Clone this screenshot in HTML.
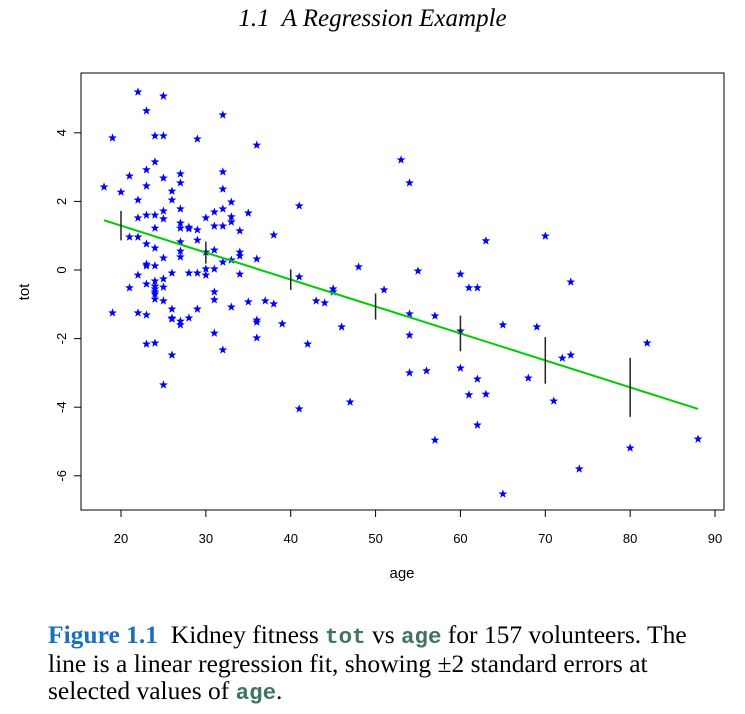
<!DOCTYPE html>
<html><head><meta charset="utf-8"><style>
body{margin:0;background:#fff;width:745px;height:714px;overflow:hidden;position:relative}
.t{position:absolute;font-family:"Liberation Serif",serif}
.m{font-family:"Liberation Mono",monospace;font-weight:bold;color:#3f7560;font-size:22px}
</style></head><body>
<div class="t" style="left:0;width:745px;top:5px;text-align:center;font-style:italic;font-size:25px">1.1&nbsp; A Regression Example</div>
<svg id="chart" width="745" height="600" style="position:absolute;left:0;top:0" font-family="Liberation Sans, sans-serif"></svg>
<div class="t" style="left:48px;top:622px;font-size:25px;line-height:27px;white-space:nowrap;transform:scaleX(1.02);transform-origin:0 0"><b style="color:#1a6fc0;font-weight:bold">Figure 1.1</b>&nbsp; Kidney fitness <span class="m">tot</span> vs <span class="m">age</span> for 157 volunteers. The<br>line is a linear regression fit, showing ±2 standard errors at<br>selected values of <span class="m">age</span>.</div>
<script>
const ages=[22,25,23,32,19,24,25,29,36,24,23,21,25,27,27,32,32,18,20,23,22,26,26,33,27,25,23,24,22,25,31,32,33,33,30,35,24,27,27,28,28,29,31,32,34,38,21,22,23,24,27,29,27,27,25,30,31,34,34,36,32,33,23,23,24,22,26,28,29,30,30,31,34,21,23,24,24,24,25,25,31,24,24,24,25,31,19,22,23,26,26,26,27,27,28,29,33,35,37,38,36,36,31,36,32,23,24,26,25,53,54,41,63,48,41,55,60,61,62,51,45,45,43,44,39,46,54,57,54,60,42,70,73,65,69,82,72,73,54,56,60,62,61,63,68,71,41,47,62,57,80,88,74,65];
const tots=[5.19,5.07,4.64,4.52,3.85,3.91,3.91,3.82,3.64,3.15,2.92,2.74,2.68,2.80,2.54,2.86,2.36,2.42,2.27,2.45,2.04,2.30,2.04,1.98,1.78,1.72,1.60,1.60,1.52,1.49,1.69,1.78,1.55,1.40,1.52,1.66,1.22,1.37,1.22,1.25,1.20,1.17,1.28,1.28,1.14,1.02,0.96,0.96,0.76,0.64,0.82,0.87,0.55,0.38,0.35,0.52,0.58,0.52,0.41,0.32,0.23,0.29,0.17,0.12,0.12,-0.15,-0.09,-0.09,-0.09,0.03,-0.15,0.03,-0.12,-0.52,-0.41,-0.32,-0.47,-0.55,-0.26,-0.50,-0.64,-0.64,-0.70,-0.85,-0.90,-0.87,-1.25,-1.25,-1.31,-1.14,-1.40,-1.43,-1.49,-1.60,-1.40,-1.14,-1.08,-0.93,-0.90,-0.99,-1.46,-1.52,-1.84,-1.98,-2.33,-2.16,-2.13,-2.48,-3.35,3.21,2.54,1.87,0.85,0.09,-0.20,-0.03,-0.12,-0.52,-0.52,-0.58,-0.55,-0.64,-0.90,-0.96,-1.57,-1.66,-1.28,-1.34,-1.90,-1.78,-2.16,0.99,-0.35,-1.60,-1.66,-2.13,-2.57,-2.48,-3.00,-2.94,-2.86,-3.18,-3.64,-3.62,-3.15,-3.82,-4.05,-3.85,-4.52,-4.96,-5.19,-4.93,-5.80,-6.53];
const fitAges=[18,88];
const fitTots=[1.45,-4.05];
const seAges=[20,30,40,50,60,70,80];
const seHalf=[0.43,0.32,0.30,0.38,0.52,0.68,0.86];
const xTicks=[20,30,40,50,60,70,80,90];
const yTicks=[-6,-4,-2,0,2,4];
const NS="http://www.w3.org/2000/svg";
const svg=document.getElementById('chart');
const X=a=>121+(a-20)*8.486;
const Y=v=>270-v*34.3;
const fitAt=a=>fitTots[0]+(a-fitAges[0])*(fitTots[1]-fitTots[0])/(fitAges[1]-fitAges[0]);
function mk(tag,at,txt){const e=document.createElementNS(NS,tag);for(const k in at)e.setAttribute(k,at[k]);if(txt!=null)e.textContent=txt;svg.appendChild(e);return e;}
function starPts(cx,cy){let p=[];for(let k=0;k<10;k++){const r=k%2?1.9:4.6;const ang=-Math.PI/2+k*Math.PI/5;p.push((cx+r*Math.cos(ang)).toFixed(2)+','+(cy+r*Math.sin(ang)).toFixed(2));}return p.join(' ');}
let e=mk('rect',{x:81,y:73,width:643,height:437,fill:'none',stroke:'#000','stroke-width':1});


e=mk('line',{x1:X(20),x2:X(90),y1:510,y2:510,stroke:'#000'});


xTicks.forEach(t=>{
 let l=mk('line',{x1:X(t),x2:X(t),y1:510,y2:517,stroke:'#000'});
 
 
 let s=mk('text',{x:X(t),y:543,'font-size':13,'text-anchor':'middle'},t);
 
 
});
e=mk('line',{x1:81,x2:81,y1:Y(-6),y2:Y(4),stroke:'#000'});


yTicks.forEach(t=>{
 let l=mk('line',{x1:74,x2:81,y1:Y(t),y2:Y(t),stroke:'#000'});
 
 
 let s=mk('text',{x:0,y:0,'font-size':13,'text-anchor':'middle',transform:`translate(66,${Y(t)}) rotate(-90)`},t);
 
 
});
e=mk('text',{x:402,y:578,'font-size':15,'text-anchor':'middle'},'age');


e=mk('text',{x:0,y:0,'font-size':15,'text-anchor':'middle',transform:'translate(29,292) rotate(-90)'},'tot');


ages.forEach((a,i)=>{
 let s=mk('polygon',{points:starPts(X(a),Y(tots[i])),fill:'#0000ff'});
 
 
});
e=mk('line',{x1:X(fitAges[0]),y1:Y(fitTots[0]),x2:X(fitAges[1]),y2:Y(fitTots[1]),stroke:'#00cc00','stroke-width':2});


seAges.forEach((a,i)=>{
 const c=fitAt(a);
 let l=mk('line',{x1:X(a),x2:X(a),y1:Y(c+seHalf[i]),y2:Y(c-seHalf[i]),stroke:'#222','stroke-width':1.5});
 
 
});
</script>
</body></html>
